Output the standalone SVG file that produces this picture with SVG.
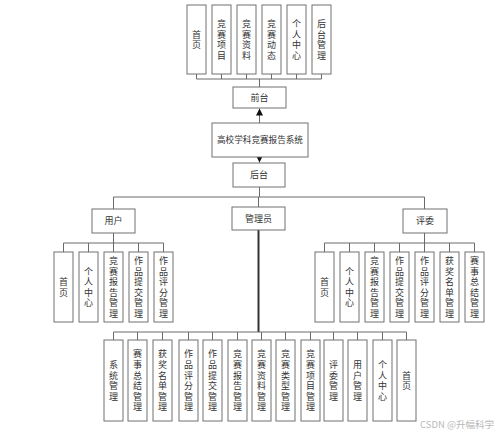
<svg xmlns="http://www.w3.org/2000/svg" width="500" height="434" viewBox="0 0 500 434">
<defs>
<style>
.b{fill:#fff;stroke:#707070;stroke-width:1}
.t{font-family:"Noto Sans CJK SC","Noto Sans",sans-serif;font-size:9px;fill:#333;text-anchor:middle}
.v{font-family:"Noto Sans CJK SC","Noto Sans",sans-serif;font-size:9px;fill:#333;text-anchor:middle;writing-mode:vertical-rl;letter-spacing:1.6px}
.c{fill:none;stroke:#6a6a6a;stroke-width:1}
.k{fill:none;stroke:#333;stroke-width:2}
.wm{font-family:"Noto Sans CJK SC","Liberation Sans",sans-serif;font-size:9.5px;fill:#b8b8b8}
</style>
<marker id="ah" viewBox="0 0 10 10" refX="10" refY="5" markerWidth="7" markerHeight="7" markerUnits="userSpaceOnUse" orient="auto">
<path d="M0,0 L10,5 L0,10 z" fill="#111"/>
</marker>
</defs>
<rect width="500" height="434" fill="#fff"/>
<g id="connectors">
<path class="c" d="M196.5,74V79M221.5,74V79M246.5,74V79M271.5,74V79M296.5,74V79M321.5,74V79M196.5,79H321.5M259.5,79V87"/>
<line class="c" x1="259.5" y1="123" x2="259.5" y2="108.5" stroke="#222" marker-end="url(#ah)"/>
<line class="c" x1="259.5" y1="157" x2="259.5" y2="162.5" stroke="#222" marker-end="url(#ah)"/>
<path class="c" d="M259.5,187V197M113.5,197H424.5M113.5,197V209M258.5,197V207M424.5,197V209"/>
<path class="c" d="M113.5,233V243M63.5,243H163.5M63.5,243V252M88.5,243V252M113.5,243V252M138.5,243V252M163.5,243V252"/>
<path class="c" d="M424.5,233V243M324.5,243H474.5M324.5,243V252M349.5,243V252M374.5,243V252M399.5,243V252M424.5,243V252M449.5,243V252M474.5,243V252"/>
<path class="k" d="M258.5,230V332"/>
<path class="c" d="M113.5,332H406.5M113.5,332V340M137.5,332V340M162.5,332V340M188.5,332V340M212.5,332V340M237.5,332V340M261.5,332V340M285.5,332V340M310.5,332V340M333.5,332V340M357.5,332V340M382.5,332V340M406.5,332V340"/>
</g>
<g id="front-top">
<g id="t1"><rect class="b" x="187" y="5" width="19" height="69"/><text class="v" x="196.5" y="40.3">首页</text></g>
<g id="t2"><rect class="b" x="212" y="5" width="19" height="69"/><text class="v" x="221.5" y="40.3">竞赛项目</text></g>
<g id="t3"><rect class="b" x="237" y="5" width="19" height="69"/><text class="v" x="246.5" y="40.3">竞赛资料</text></g>
<g id="t4"><rect class="b" x="262" y="5" width="19" height="69"/><text class="v" x="271.5" y="40.3">竞赛动态</text></g>
<g id="t5"><rect class="b" x="287" y="5" width="19" height="69"/><text class="v" x="296.5" y="40.3">个人中心</text></g>
<g id="t6"><rect class="b" x="312" y="5" width="19" height="69"/><text class="v" x="321.5" y="40.3">后台管理</text></g>
</g>
<g id="qiantai"><rect class="b" x="233" y="87" width="53" height="21"/><text class="t" x="259.5" y="100.8">前台</text></g>
<g id="system"><rect class="b" x="212" y="123" width="96" height="34"/><text class="t" x="260" y="143.3" style="font-size:8.6px">高校学科竞赛报告系统</text></g>
<g id="houtai"><rect class="b" x="233" y="163" width="52" height="24"/><text class="t" x="259" y="178.3">后台</text></g>
<g id="user"><rect class="b" x="92" y="209" width="43" height="24"/><text class="t" x="113.5" y="224.3">用户</text></g>
<g id="admin"><rect class="b" x="232" y="207" width="53" height="23"/><text class="t" x="258.5" y="221.8">管理员</text></g>
<g id="judge"><rect class="b" x="403" y="209" width="44" height="24"/><text class="t" x="425" y="224.3">评委</text></g>
<g id="user-children">
<g id="u1"><rect class="b" x="54" y="252" width="19" height="70"/><text class="v" x="63.5" y="287.8">首页</text></g>
<g id="u2"><rect class="b" x="79" y="252" width="19" height="70"/><text class="v" x="88.5" y="287.8">个人中心</text></g>
<g id="u3"><rect class="b" x="104" y="252" width="19" height="70"/><text class="v" x="113.5" y="287.8">竞赛报告管理</text></g>
<g id="u4"><rect class="b" x="129" y="252" width="19" height="70"/><text class="v" x="138.5" y="287.8">作品提交管理</text></g>
<g id="u5"><rect class="b" x="154" y="252" width="19" height="70"/><text class="v" x="163.5" y="287.8">作品评分管理</text></g>
</g>
<g id="judge-children">
<g id="j1"><rect class="b" x="315" y="252" width="19" height="70"/><text class="v" x="324.5" y="287.8">首页</text></g>
<g id="j2"><rect class="b" x="340" y="252" width="19" height="70"/><text class="v" x="349.5" y="287.8">个人中心</text></g>
<g id="j3"><rect class="b" x="365" y="252" width="19" height="70"/><text class="v" x="374.5" y="287.8">竞赛报告管理</text></g>
<g id="j4"><rect class="b" x="390" y="252" width="19" height="70"/><text class="v" x="399.5" y="287.8">作品提交管理</text></g>
<g id="j5"><rect class="b" x="415" y="252" width="19" height="70"/><text class="v" x="424.5" y="287.8">作品评分管理</text></g>
<g id="j6"><rect class="b" x="440" y="252" width="19" height="70"/><text class="v" x="449.5" y="287.8">获奖名单管理</text></g>
<g id="j7"><rect class="b" x="465" y="252" width="19" height="70"/><text class="v" x="474.5" y="287.8">赛事总结管理</text></g>
</g>
<g id="admin-children">
<g id="a1"><rect class="b" x="104" y="340" width="19" height="81"/><text class="v" x="113.5" y="381.3">系统管理</text></g>
<g id="a2"><rect class="b" x="128" y="340" width="19" height="81"/><text class="v" x="137.5" y="381.3">赛事总结管理</text></g>
<g id="a3"><rect class="b" x="153" y="340" width="19" height="81"/><text class="v" x="162.5" y="381.3">获奖名单管理</text></g>
<g id="a4"><rect class="b" x="179" y="340" width="19" height="81"/><text class="v" x="188.5" y="381.3">作品评分管理</text></g>
<g id="a5"><rect class="b" x="203" y="340" width="19" height="81"/><text class="v" x="212.5" y="381.3">作品提交管理</text></g>
<g id="a6"><rect class="b" x="228" y="340" width="19" height="81"/><text class="v" x="237.5" y="381.3">竞赛报告管理</text></g>
<g id="a7"><rect class="b" x="252" y="340" width="19" height="81"/><text class="v" x="261.5" y="381.3">竞赛资料管理</text></g>
<g id="a8"><rect class="b" x="276" y="340" width="19" height="81"/><text class="v" x="285.5" y="381.3">竞赛类型管理</text></g>
<g id="a9"><rect class="b" x="301" y="340" width="19" height="81"/><text class="v" x="310.5" y="381.3">竞赛项目管理</text></g>
<g id="a10"><rect class="b" x="324" y="340" width="19" height="81"/><text class="v" x="333.5" y="381.3">评委管理</text></g>
<g id="a11"><rect class="b" x="348" y="340" width="19" height="81"/><text class="v" x="357.5" y="381.3">用户管理</text></g>
<g id="a12"><rect class="b" x="373" y="340" width="19" height="81"/><text class="v" x="382.5" y="381.3">个人中心</text></g>
<g id="a13"><rect class="b" x="397" y="340" width="19" height="81"/><text class="v" x="406.5" y="381.3">首页</text></g>
</g>
<text class="wm" x="420" y="428">CSDN @升幅科学</text>
</svg>
